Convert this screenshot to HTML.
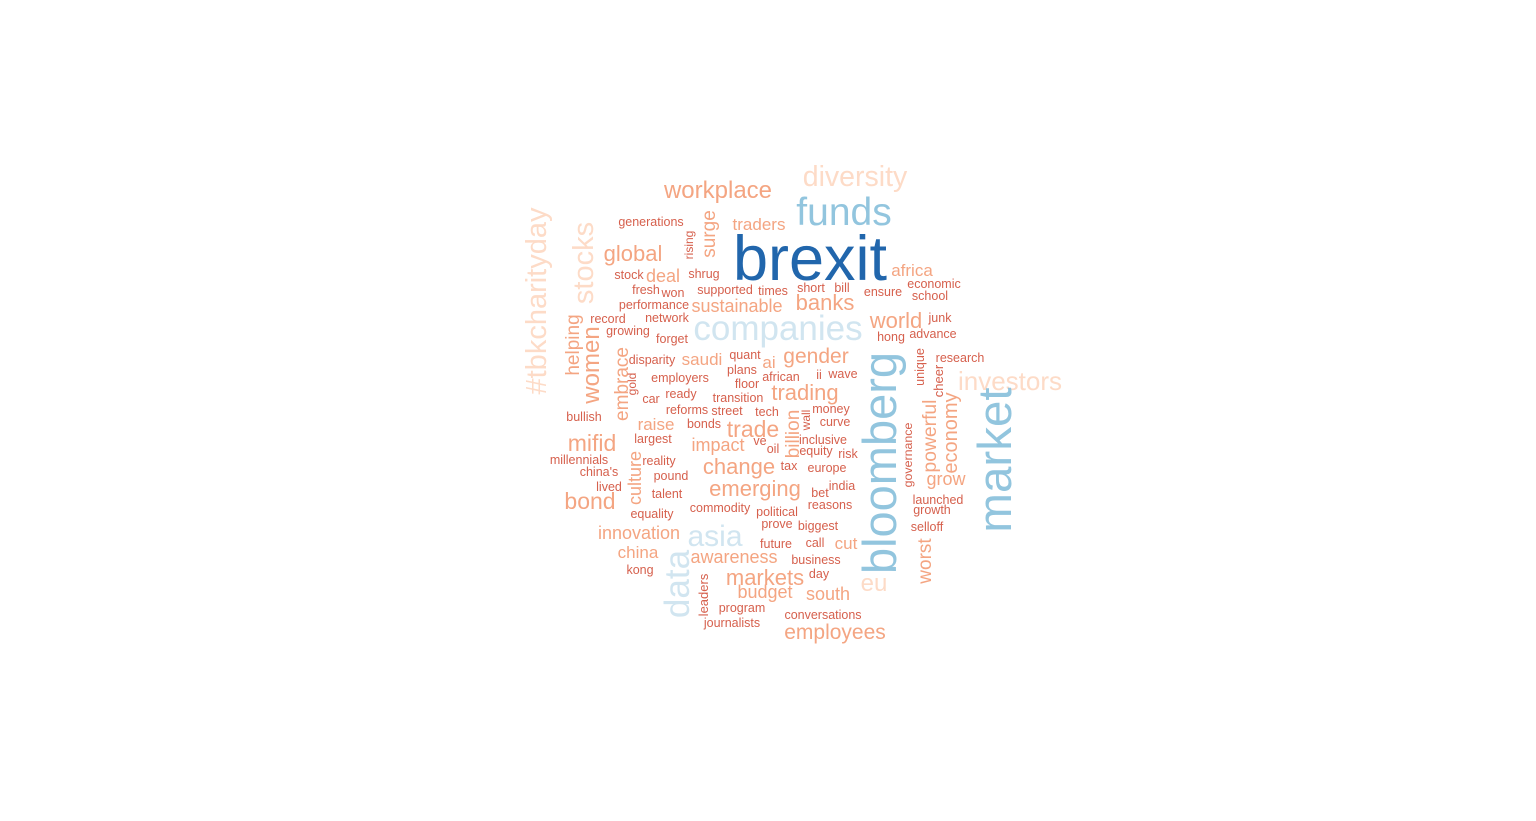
<!DOCTYPE html>
<html><head><meta charset="utf-8"><style>
html,body{margin:0;padding:0;background:#fff;}
svg{display:block;}
text{font-family:"Liberation Sans",Arial,sans-serif;}
</style></head><body>
<svg id="cloud" width="1536" height="821" viewBox="0 0 1536 821" xmlns="http://www.w3.org/2000/svg">
<rect width="1536" height="821" fill="#fff"/>
</svg>
<script>
const D="#d6604d",M="#f4a582",L="#fddbc7",LB="#d1e5f0",B="#92c5de",DB="#2166ac";
// horizontal words: text, center x, baseline y, font size, colour
const hWords=[
["brexit",810,280,63,DB],["funds",844,225,39,B],["diversity",855,186,28.5,L],["workplace",718,198,24,M],
["generations",651,226,12.5,D],["traders",759,230,17,M],["global",633,261,22,M],["stock",629,279,12.5,D],
["deal",663,282,18,M],["shrug",704,278,12.5,D],["africa",912,276,17,M],["economic",934,288,12.5,D],
["fresh",646,294,12.5,D],["won",673,297,12.5,D],["supported",725,294,12.5,D],["times",773,295,12.5,D],
["short",811,292,12.5,D],["bill",842,292,12.5,D],["ensure",883,296,12.5,D],["school",930,300,12.5,D],
["performance",654,309,12.5,D],["sustainable",737,312,18,M],["banks",825,310,22,M],["record",608,323,12.5,D],
["network",667,322,12.5,D],["growing",628,335,12.5,D],["companies",778,340,35,LB],["forget",672,343,12.5,D],
["world",896,328,22,M],["junk",940,322,12.5,D],["hong",891,341,12.5,D],["advance",933,338,12.5,D],
["disparity",652,364,12.5,D],["saudi",702,365,17,M],["quant",745,359,12.5,D],["ai",769,368,17,M],
["gender",816,363,21,M],["research",960,362,12.5,D],["plans",742,374,12.5,D],["employers",680,382,12.5,D],
["floor",747,388,12.5,D],["african",781,381,12.5,D],["ii",819,379,12.5,D],["wave",843,378,12.5,D],
["investors",1010,390,26,L],["trading",805,400,22,M],["car",651,403,12.5,D],["ready",681,398,12.5,D],
["transition",738,402,12.5,D],["bullish",584,421,12.5,D],["reforms",687,414,12.5,D],["street",727,415,12.5,D],
["tech",767,416,12.5,D],["money",831,413,12.5,D],["curve",835,426,12.5,D],["raise",656,430,17,M],
["bonds",704,428,12.5,D],["trade",753,437,23,M],["mifid",592,451,23,M],["largest",653,443,12.5,D],
["impact",718,451,18,M],["ve",760,445,12.5,D],["oil",773,453,12.5,D],["inclusive",823,444,12.5,D],
["equity",816,455,12.5,D],["risk",848,458,12.5,D],["millennials",579,464,12.5,D],["reality",659,465,12.5,D],
["change",739,474,22,M],["tax",789,470,12.5,D],["europe",827,472,12.5,D],["china's",599,476,12.5,D],
["pound",671,480,12.5,D],["lived",609,491,12.5,D],["talent",667,498,12.5,D],["emerging",755,496,22,M],
["india",842,490,12.5,D],["bet",820,497,12.5,D],["bond",590,509,23,M],["launched",938,504,12.5,D],
["reasons",830,509,12.5,D],["commodity",720,512,12.5,D],["political",777,516,12.5,D],["growth",932,514,12.5,D],
["equality",652,518,12.5,D],["prove",777,528,12.5,D],["biggest",818,530,12.5,D],["selloff",927,531,12.5,D],
["innovation",639,539,18,M],["asia",715,546,30,LB],["future",776,548,12.5,D],["call",815,547,12.5,D],
["cut",846,549,17,M],["china",638,558,17,M],["awareness",734,563,18,M],["business",816,564,12.5,D],
["kong",640,574,12.5,D],["markets",765,585,22,M],["day",819,578,12.5,D],["eu",874,591,24,L],
["budget",765,598,18,M],["south",828,600,18,M],["program",742,612,12.5,D],["conversations",823,619,12.5,D],
["journalists",732,627,12.5,D],["employees",835,639,21,M],["grow",946,485,18,M]
];
// vertical words (read upward): text, baseline x, center y, font size, colour
const vWords=[
["#tbkcharityday",546,301,29,L],["stocks",593,263,29,L],["helping",579,345,19,M],["women",599,365,24,M],
["embrace",628,384,19,M],["gold",636,384,12,D],["surge",715,234,19,M],["rising",693,245,12,D],
["culture",641,478,18,M],["data",689,584,35,LB],["leaders",708,595,13,D],["billion",799,434,19,M],
["wall",810,420,12,D],["bloomberg",896,463,47,B],["market",1011,460,47.5,B],["governance",912,455,12.4,D],
["unique",924,367,12.6,D],["cheer",943,381,13,D],["powerful",936,436,19.3,M],["economy",957,433,20,M],
["worst",931,561,19,M]
];
const svg=document.getElementById('cloud');
const NS="http://www.w3.org/2000/svg";
function slug(t){return t.replace(/[^a-z0-9]/gi,'').toLowerCase();}
hWords.forEach(w=>{
  const el=document.createElementNS(NS,'text');
  el.setAttribute('x',w[1]);el.setAttribute('y',w[2]);
  el.setAttribute('font-size',w[3]);el.setAttribute('fill',w[4]);
  el.setAttribute('text-anchor','middle');
  
  
  el.textContent=w[0];svg.appendChild(el);
});
vWords.forEach(w=>{
  const el=document.createElementNS(NS,'text');
  el.setAttribute('x',0);el.setAttribute('y',0);
  el.setAttribute('transform','translate('+w[1]+','+w[2]+') rotate(-90)');
  el.setAttribute('font-size',w[3]);el.setAttribute('fill',w[4]);
  el.setAttribute('text-anchor','middle');
  
  
  el.textContent=w[0];svg.appendChild(el);
});
</script>
</body></html>
